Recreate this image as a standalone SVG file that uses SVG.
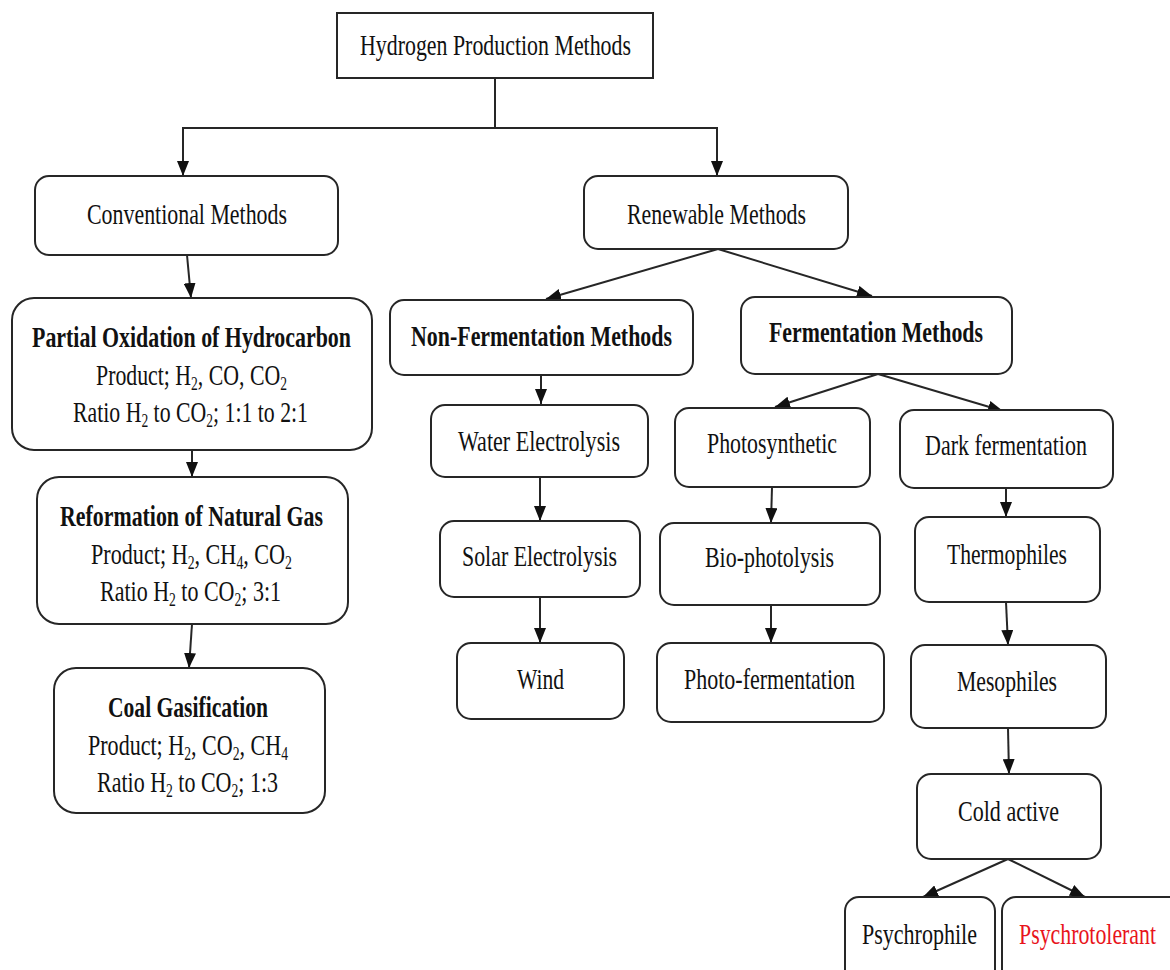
<svg xmlns="http://www.w3.org/2000/svg" width="1170" height="970" viewBox="0 0 1170 970">
<style>
.box{fill:#fff;stroke:#262626;stroke-width:2}
.t{font-family:"Liberation Serif","Times New Roman","DejaVu Serif",serif;font-size:29px;fill:#111;text-anchor:middle}
.b{font-weight:bold}
.sub{font-size:18px}
.red{fill:#e8141b}
.c{fill:none;stroke:#262626;stroke-width:2}
</style>
<defs>
<marker id="ah" markerUnits="userSpaceOnUse" markerWidth="16" markerHeight="12" refX="15" refY="6" orient="auto">
<path d="M0,0 L15,6 L0,12 Z" fill="#111"/>
</marker>
</defs>
<rect width="1170" height="970" fill="#fff"/>

<g id="connectors">
<polyline class="c" points="495,78 495,128 183,128 183,176" marker-end="url(#ah)"/>
<polyline class="c" points="495,128 717,128 717,176" marker-end="url(#ah)"/>
<line class="c" x1="187" y1="255" x2="191" y2="298" marker-end="url(#ah)"/>
<line class="c" x1="192" y1="450" x2="192" y2="477" marker-end="url(#ah)"/>
<line class="c" x1="192" y1="624" x2="189" y2="668" marker-end="url(#ah)"/>
<line class="c" x1="718" y1="249" x2="546" y2="299" marker-end="url(#ah)"/>
<line class="c" x1="718" y1="249" x2="872" y2="296" marker-end="url(#ah)"/>
<line class="c" x1="541" y1="375" x2="541" y2="404" marker-end="url(#ah)"/>
<line class="c" x1="540" y1="477" x2="540" y2="521" marker-end="url(#ah)"/>
<line class="c" x1="540" y1="597" x2="540" y2="643" marker-end="url(#ah)"/>
<line class="c" x1="878" y1="374" x2="775" y2="407" marker-end="url(#ah)"/>
<line class="c" x1="878" y1="374" x2="1003" y2="411" marker-end="url(#ah)"/>
<line class="c" x1="772" y1="487" x2="771" y2="523" marker-end="url(#ah)"/>
<line class="c" x1="771" y1="605" x2="771" y2="643" marker-end="url(#ah)"/>
<line class="c" x1="1006" y1="488" x2="1006" y2="517" marker-end="url(#ah)"/>
<line class="c" x1="1006" y1="602" x2="1008" y2="645" marker-end="url(#ah)"/>
<line class="c" x1="1008" y1="728" x2="1009" y2="774" marker-end="url(#ah)"/>
<line class="c" x1="1008" y1="859" x2="923" y2="897" marker-end="url(#ah)"/>
<line class="c" x1="1008" y1="859" x2="1085" y2="897" marker-end="url(#ah)"/>
</g>

<g id="hydrogen">
<rect class="box" x="337" y="13" width="316" height="65"/>
<text class="t" x="495.5" y="55" textLength="271" lengthAdjust="spacingAndGlyphs">Hydrogen Production Methods</text>
</g>
<g id="conventional">
<rect class="box" x="35" y="176" width="303" height="79" rx="14"/>
<text class="t" x="187" y="224" textLength="200" lengthAdjust="spacingAndGlyphs">Conventional Methods</text>
</g>
<g id="renewable">
<rect class="box" x="584" y="176" width="264" height="73" rx="14"/>
<text class="t" x="716.5" y="224" textLength="179" lengthAdjust="spacingAndGlyphs">Renewable Methods</text>
</g>

<g id="partial">
<rect class="box" x="12" y="298" width="360" height="152" rx="22"/>
<text class="t b" x="191.5" y="347" textLength="319" lengthAdjust="spacingAndGlyphs">Partial Oxidation of Hydrocarbon</text>
<text class="t" x="191.5" y="385" textLength="191" lengthAdjust="spacingAndGlyphs">Product; H<tspan class="sub" dy="5">2</tspan><tspan dy="-5">, CO, CO</tspan><tspan class="sub" dy="5">2</tspan></text>
<text class="t" x="190.5" y="422" textLength="235" lengthAdjust="spacingAndGlyphs">Ratio H<tspan class="sub" dy="5">2</tspan><tspan dy="-5"> to CO</tspan><tspan class="sub" dy="5">2</tspan><tspan dy="-5">; 1:1 to 2:1</tspan></text>
</g>
<g id="reformation">
<rect class="box" x="37" y="477" width="311" height="147" rx="22"/>
<text class="t b" x="191.5" y="526" textLength="263" lengthAdjust="spacingAndGlyphs">Reformation of Natural Gas</text>
<text class="t" x="191.5" y="564" textLength="201" lengthAdjust="spacingAndGlyphs">Product; H<tspan class="sub" dy="5">2</tspan><tspan dy="-5">, CH</tspan><tspan class="sub" dy="5">4</tspan><tspan dy="-5">, CO</tspan><tspan class="sub" dy="5">2</tspan></text>
<text class="t" x="190.5" y="601" textLength="181" lengthAdjust="spacingAndGlyphs">Ratio H<tspan class="sub" dy="5">2</tspan><tspan dy="-5"> to CO</tspan><tspan class="sub" dy="5">2</tspan><tspan dy="-5">; 3:1</tspan></text>
</g>
<g id="coal">
<rect class="box" x="54" y="668" width="271" height="145" rx="22"/>
<text class="t b" x="188" y="717" textLength="160" lengthAdjust="spacingAndGlyphs">Coal Gasification</text>
<text class="t" x="188" y="755" textLength="200" lengthAdjust="spacingAndGlyphs">Product; H<tspan class="sub" dy="5">2</tspan><tspan dy="-5">, CO</tspan><tspan class="sub" dy="5">2</tspan><tspan dy="-5">, CH</tspan><tspan class="sub" dy="5">4</tspan></text>
<text class="t" x="187.5" y="792" textLength="181" lengthAdjust="spacingAndGlyphs">Ratio H<tspan class="sub" dy="5">2</tspan><tspan dy="-5"> to CO</tspan><tspan class="sub" dy="5">2</tspan><tspan dy="-5">; 1:3</tspan></text>
</g>

<g id="nonferm">
<rect class="box" x="390" y="300" width="303" height="75" rx="14"/>
<text class="t b" x="541.5" y="346" textLength="261" lengthAdjust="spacingAndGlyphs">Non-Fermentation Methods</text>
</g>
<g id="ferm">
<rect class="box" x="741" y="297" width="271" height="77" rx="14"/>
<text class="t b" x="876" y="342" textLength="214" lengthAdjust="spacingAndGlyphs">Fermentation Methods</text>
</g>
<g id="water">
<rect class="box" x="431" y="405" width="217" height="72" rx="14"/>
<text class="t" x="539" y="451" textLength="162" lengthAdjust="spacingAndGlyphs">Water Electrolysis</text>
</g>
<g id="solar">
<rect class="box" x="440" y="521" width="200" height="76" rx="14"/>
<text class="t" x="539.5" y="566" textLength="155" lengthAdjust="spacingAndGlyphs">Solar Electrolysis</text>
</g>
<g id="wind">
<rect class="box" x="457" y="643" width="167" height="76" rx="14"/>
<text class="t" x="540.5" y="689" textLength="47" lengthAdjust="spacingAndGlyphs">Wind</text>
</g>
<g id="photosynthetic">
<rect class="box" x="675" y="408" width="195" height="79" rx="14"/>
<text class="t" x="772" y="453" textLength="130" lengthAdjust="spacingAndGlyphs">Photosynthetic</text>
</g>
<g id="biophotolysis">
<rect class="box" x="660" y="523" width="220" height="82" rx="14"/>
<text class="t" x="769.5" y="567" textLength="129" lengthAdjust="spacingAndGlyphs">Bio-photolysis</text>
</g>
<g id="photoferm">
<rect class="box" x="657" y="643" width="227" height="79" rx="14"/>
<text class="t" x="769.5" y="689" textLength="171" lengthAdjust="spacingAndGlyphs">Photo-fermentation</text>
</g>
<g id="dark">
<rect class="box" x="900" y="410" width="213" height="78" rx="14"/>
<text class="t" x="1006" y="455" textLength="162" lengthAdjust="spacingAndGlyphs">Dark fermentation</text>
</g>
<g id="thermophiles">
<rect class="box" x="915" y="517" width="185" height="85" rx="14"/>
<text class="t" x="1007" y="564" textLength="120" lengthAdjust="spacingAndGlyphs">Thermophiles</text>
</g>
<g id="mesophiles">
<rect class="box" x="911" y="645" width="195" height="83" rx="14"/>
<text class="t" x="1007" y="691" textLength="100" lengthAdjust="spacingAndGlyphs">Mesophiles</text>
</g>
<g id="coldactive">
<rect class="box" x="917" y="774" width="184" height="85" rx="14"/>
<text class="t" x="1008.5" y="821" textLength="101" lengthAdjust="spacingAndGlyphs">Cold active</text>
</g>
<g id="psychrophile">
<rect class="box" x="845" y="897" width="150" height="95" rx="14"/>
<text class="t" x="919.5" y="944" textLength="115" lengthAdjust="spacingAndGlyphs">Psychrophile</text>
</g>
<g id="psychrotolerant">
<rect class="box" x="1002" y="897" width="200" height="95" rx="14"/>
<text class="t red" x="1087.5" y="944" textLength="137" lengthAdjust="spacingAndGlyphs">Psychrotolerant</text>
</g>
</svg>
